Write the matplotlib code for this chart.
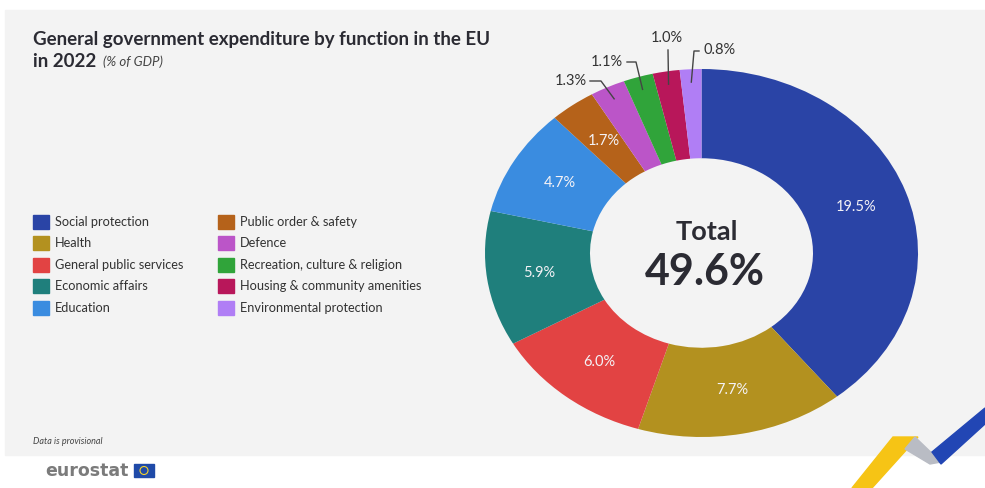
import matplotlib.pyplot as plt
from matplotlib.patches import Rectangle, Polygon, Circle
import numpy as np

plt.rcParams['font.family'] = ['Liberation Sans Narrow', 'Lato', 'DejaVu Sans']

# data
categories = ['Social protection', 'Health', 'General public services',
              'Economic affairs', 'Education', 'Public order & safety',
              'Defence', 'Recreation, culture & religion',
              'Housing & community amenities', 'Environmental protection']
values = [19.5, 7.7, 6.0, 5.9, 4.7, 1.7, 1.3, 1.1, 1.0, 0.8]
total = 49.6
colors = ['#2a44a6', '#b3911f', '#e24343', '#1f7f7c', '#3a8ce0',
          '#b5621a', '#bb55c8', '#30a43a', '#b8175a', '#b07ef5']

W, H = 985, 488
fig = plt.figure(figsize=(W / 100, H / 100), dpi=100)
fig.patch.set_facecolor('white')

# background axes in pixel coordinates
bg = fig.add_axes([0, 0, 1, 1])
bg.set_xlim(0, W)
bg.set_ylim(H, 0)
bg.axis('off')
bg.add_patch(Rectangle((5, 10), W - 5, 445, color='#f3f3f3', zorder=0))

# title
bg.text(33, 45, 'General government expenditure by function in the EU',
        fontsize=13.5, fontweight='bold', color='#2b2b33', va='baseline')
bg.text(33, 67, 'in 2022', fontsize=13.5, fontweight='bold', color='#2b2b33',
        va='baseline')
bg.text(103, 66, '(% of GDP)', fontsize=9.5, style='italic', color='#444444',
        va='baseline')

# legend
rows = [222, 243, 265, 286, 308]
for i, (lab, col) in enumerate(zip(categories, colors)):
    x0 = 33 if i < 5 else 218
    y0 = rows[i % 5]
    bg.add_patch(Rectangle((x0, y0 - 7), 16, 14, color=col))
    bg.text(x0 + 22, y0, lab, fontsize=9.2, color='#333333', va='center')

bg.text(33, 441, 'Data is provisional', fontsize=6.5, style='italic',
        color='#444444', va='center')

# eurostat logo
bg.text(45, 471, 'eurostat', fontsize=12.5, fontweight='bold', color='#7b7b7b',
        va='center', family=['DejaVu Sans'])
bg.add_patch(Rectangle((134, 464), 20, 13, color='#1f4aa8'))
bg.add_patch(Circle((144, 470.5), 4, fill=False, ec='#f2d22c', lw=0.8))

# decoration bottom right
bg.add_patch(Polygon([(852, 488), (872, 488), (918, 437), (893, 437)],
                     color='#f6c415', zorder=1))
bg.add_patch(Polygon([(915, 437), (905, 449), (930, 464), (941, 462)],
                     color='#b9bcc4', zorder=1))
bg.add_patch(Polygon([(932, 452), (941, 464), (985, 424), (985, 408)],
                     color='#2246b4', zorder=1))

# donut
cx, cy, rx, ry = 701.5, 253, 216.5, 184
ax = fig.add_axes([(cx - rx) / W, (H - cy - ry) / H, 2 * rx / W, 2 * ry / H])
ax.set_facecolor('none')
wedges, _ = ax.pie(values, colors=colors, startangle=90, counterclock=False,
                   wedgeprops=dict(width=0.485, linewidth=0))
ax.set_aspect('auto')
ax.set_xlim(-1, 1)
ax.set_ylim(-1, 1)
ax.axis('off')
px_tr = bg.transData

def to_px(r, ang):
    a = np.deg2rad(ang)
    return cx + rx * r * np.cos(a), cy - ry * r * np.sin(a)

# labels inside the ring
for w, v in zip(wedges[:6], values[:6]):
    mid = (w.theta1 + w.theta2) / 2
    px, py = to_px(0.757, mid)
    ax.text(px, py, f'{v:.1f}%', fontsize=10.5, color='#f4f2f6',
            ha='center', va='center', transform=px_tr, zorder=5)

# small slices with leader lines: text position and elbow
outer = [
    (6, (587, 81), 'right', [(590, 81), (601, 81)]),
    (7, (623, 62), 'right', [(627, 62), (636, 62)]),
    (8, (667, 38), 'center', [(668, 50)]),
    (9, (703, 50), 'left', [(699, 51), (694, 51)]),
]
for i, (tx, ty), ha, pts in outer:
    w = wedges[i]
    mid = (w.theta1 + w.theta2) / 2
    ax_, ay_ = to_px(0.93, mid)
    xs = [p[0] for p in pts] + [ax_]
    ys = [p[1] for p in pts] + [ay_]
    ax.plot(xs, ys, color='#444444', lw=1, transform=px_tr, clip_on=False,
            zorder=6)
    ax.text(tx, ty, f'{values[i]:.1f}%', fontsize=10.5, color='#333333',
            ha=ha, va='center', transform=px_tr, zorder=6)

# centre text
ax.text(707, 232, 'Total', fontsize=19.5, fontweight='bold', color='#2b2b33',
        ha='center', va='center', transform=px_tr, zorder=6)
ax.text(705, 272, f'{total:.1f}%', fontsize=31, fontweight='bold',
        color='#2b2b33', ha='center', va='center', transform=px_tr, zorder=6)

fig.savefig('out.png', dpi=100)
